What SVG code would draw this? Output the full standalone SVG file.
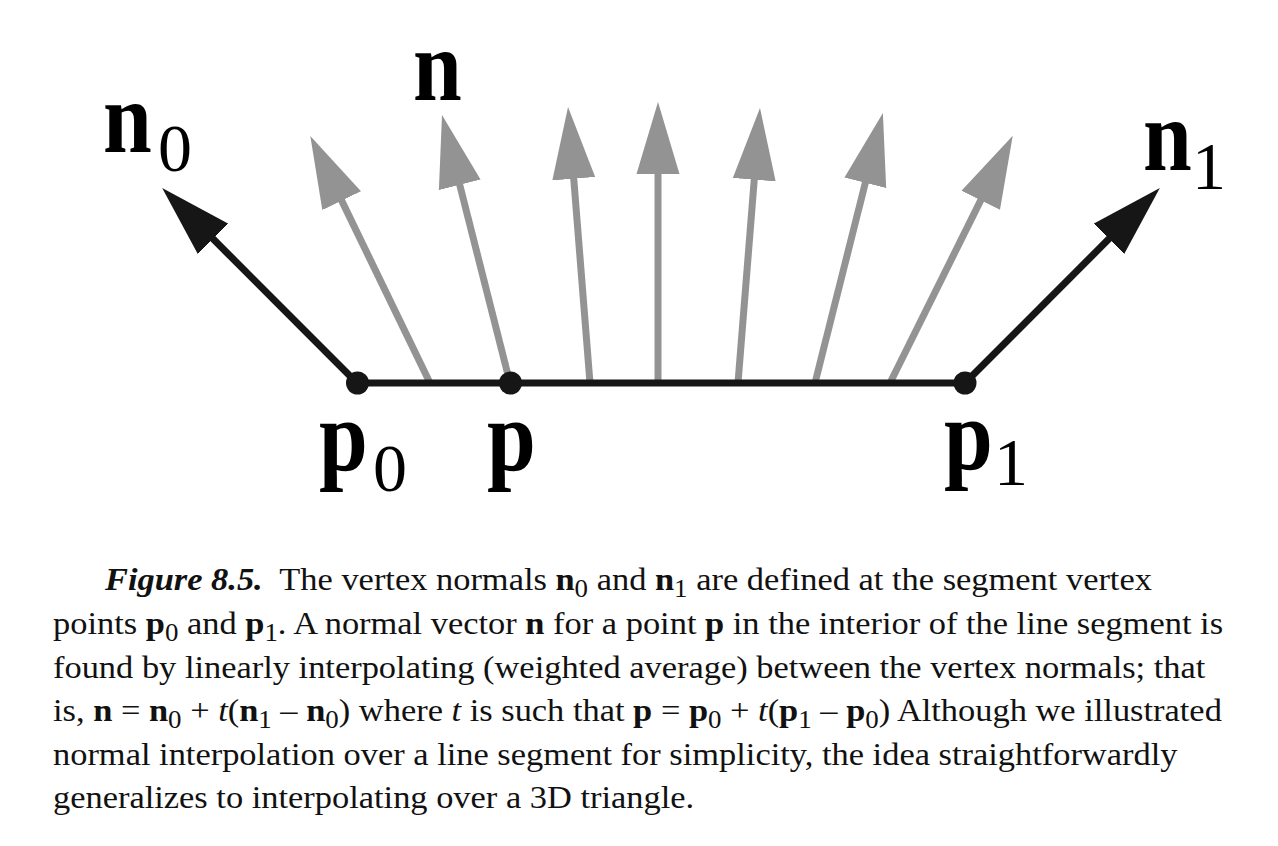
<svg xmlns="http://www.w3.org/2000/svg" width="1278" height="846" viewBox="0 0 1278 846">
<style>
.g{stroke:#939393;stroke-width:7;fill:none}
.k{stroke:#161616;stroke-width:7;fill:none}
.lb{font-family:"Liberation Serif","Times New Roman",serif;font-weight:bold;font-size:102px;fill:#000}
.ls{font-family:"Liberation Serif","Times New Roman",serif;font-size:68px;fill:#000}
.cap{font-family:"Liberation Serif","Times New Roman",serif;font-size:32px;fill:#111}
.b{font-weight:bold}
.i{font-style:italic}
.sub{font-size:25px}
</style>
<defs>
<marker id="hg" markerUnits="userSpaceOnUse" viewBox="0 -22 72 44" refX="22" refY="0" markerWidth="72" markerHeight="44" orient="auto">
<path d="M0,-21.5 L72,0 L0,21.5 Z" fill="#939393"/>
</marker>
<marker id="hk" markerUnits="userSpaceOnUse" viewBox="0 -22 72 44" refX="22" refY="0" markerWidth="72" markerHeight="44" orient="auto">
<path d="M0,-21.5 L72,0 L0,21.5 Z" fill="#161616"/>
</marker>
</defs>
<rect width="1278" height="846" fill="#fff"/>
<g id="connectors">
<line class="g" x1="430" y1="383" x2="332.1" y2="180.9" marker-end="url(#hg)"/>
<line class="g" x1="510" y1="383" x2="454.3" y2="163.5" marker-end="url(#hg)"/>
<line class="g" x1="590" y1="383" x2="572" y2="156.8" marker-end="url(#hg)"/>
<line class="g" x1="658" y1="383" x2="658" y2="152" marker-end="url(#hg)"/>
<line class="g" x1="738" y1="383" x2="756" y2="157.8" marker-end="url(#hg)"/>
<line class="g" x1="815" y1="383" x2="870.7" y2="161.5" marker-end="url(#hg)"/>
<line class="g" x1="890" y1="383" x2="990.5" y2="180.6" marker-end="url(#hg)"/>
<line class="k" x1="357" y1="383" x2="197.5" y2="223.3" marker-end="url(#hk)"/>
<line class="k" x1="965" y1="383" x2="1124.5" y2="223.3" marker-end="url(#hk)"/>
<line class="k" x1="357" y1="383" x2="965" y2="383"/>
</g>
<g id="p0"><circle cx="357.5" cy="383" r="11.5" fill="#161616"/>
<text class="lb" transform="translate(319,470) scale(0.86,1)">p</text><text class="ls" x="373" y="491">0</text></g>
<g id="p"><circle cx="510.5" cy="383" r="11.5" fill="#161616"/>
<text class="lb" transform="translate(487,470) scale(0.86,1)">p</text></g>
<g id="p1"><circle cx="965" cy="383" r="11.5" fill="#161616"/>
<text class="lb" transform="translate(944,469) scale(0.86,1)">p</text><text class="ls" x="994" y="485">1</text></g>
<g id="n0"><text class="lb" transform="translate(103,152) scale(0.86,1)">n</text><text class="ls" x="158" y="171">0</text></g>
<g id="n"><text class="lb" transform="translate(413,100) scale(0.86,1)">n</text></g>
<g id="n1"><text class="lb" transform="translate(1143,170) scale(0.86,1)">n</text><text class="ls" x="1192" y="189">1</text></g>
<g id="caption" class="cap" transform="translate(53,0) scale(1.076,1) translate(-53,0)">
<text x="101.3" y="590" xml:space="preserve"><tspan class="b i">Figure 8.5.</tspan>  The vertex normals <tspan class="b">n</tspan><tspan class="sub" dy="7">0</tspan><tspan dy="-7"> and </tspan><tspan class="b">n</tspan><tspan class="sub" dy="7">1</tspan><tspan dy="-7"> are defined at the segment vertex</tspan></text>
<text x="53" y="634" xml:space="preserve">points <tspan class="b">p</tspan><tspan class="sub" dy="7">0</tspan><tspan dy="-7"> and </tspan><tspan class="b">p</tspan><tspan class="sub" dy="7">1</tspan><tspan dy="-7">. A normal vector </tspan><tspan class="b">n</tspan> for a point <tspan class="b">p</tspan> in the interior of the line segment is</text>
<text x="53" y="678">found by linearly interpolating (weighted average) between the vertex normals; that</text>
<text x="53" y="721" xml:space="preserve">is, <tspan class="b">n</tspan> = <tspan class="b">n</tspan><tspan class="sub" dy="7">0</tspan><tspan dy="-7"> + </tspan><tspan class="i">t</tspan>(<tspan class="b">n</tspan><tspan class="sub" dy="7">1</tspan><tspan dy="-7"> – </tspan><tspan class="b">n</tspan><tspan class="sub" dy="7">0</tspan><tspan dy="-7">) where </tspan><tspan class="i">t</tspan> is such that <tspan class="b">p</tspan> = <tspan class="b">p</tspan><tspan class="sub" dy="7">0</tspan><tspan dy="-7"> + </tspan><tspan class="i">t</tspan>(<tspan class="b">p</tspan><tspan class="sub" dy="7">1</tspan><tspan dy="-7"> – </tspan><tspan class="b">p</tspan><tspan class="sub" dy="7">0</tspan><tspan dy="-7">) Although we illustrated</tspan></text>
<text x="53" y="765">normal interpolation over a line segment for simplicity, the idea straightforwardly</text>
<text x="53" y="808">generalizes to interpolating over a 3D triangle.</text>
</g>
</svg>
